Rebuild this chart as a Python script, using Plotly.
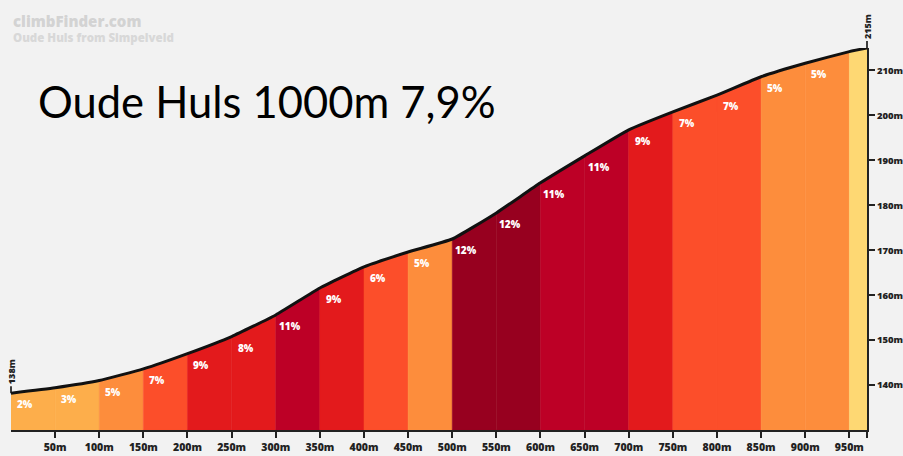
import plotly.graph_objects as go

# ---- data ----
dist = [0, 50, 100, 150, 200, 250, 300, 350, 400, 450, 500,
        550, 600, 650, 700, 750, 800, 850, 900, 950, 970]
elev = [138.2, 139.4, 141.0, 143.6, 147.0, 150.8, 155.6, 161.6, 166.3, 169.6, 172.5,
        178.3, 185.0, 191.0, 196.8, 200.8, 204.5, 208.6, 211.6, 214.2, 215.0]
grades = [2, 3, 5, 7, 9, 8, 11, 9, 6, 5, 12, 12, 11, 11, 9, 7, 7, 5, 5, 1]
grade_labels = ["2%", "3%", "5%", "7%", "9%", "8%", "11%", "9%", "6%", "5%",
                "12%", "12%", "11%", "11%", "9%", "7%", "7%", "5%", "5%", ""]
x_tick_vals = [50, 100, 150, 200, 250, 300, 350, 400, 450, 500,
               550, 600, 650, 700, 750, 800, 850, 900, 950, 970]
x_tick_text = ["50m", "100m", "150m", "200m", "250m", "300m", "350m", "400m", "450m", "500m",
               "550m", "600m", "650m", "700m", "750m", "800m", "850m", "900m", "950m", ""]
y_tick_vals = [140, 150, 160, 170, 180, 190, 200, 210]
y_tick_text = ["140m", "150m", "160m", "170m", "180m", "190m", "200m", "210m"]
start_label = "138m"
end_label = "215m"
title_text = "Oude Huls 1000m 7,9%"
brand = "climbFinder.com"
subtitle = "Oude Huls from Simpelveld"

Y_MIN, Y_MAX = 130, 215


def grade_color(g):
    if g < 2:
        return "#FED873"
    if g <= 3:
        return "#FDAE4B"
    if g <= 5:
        return "#FD8D3C"
    if g <= 7:
        return "#FC4E2A"
    if g <= 9:
        return "#E31A1C"
    if g <= 11:
        return "#BD0026"
    return "#97001F"


fig = go.Figure()

for i, g in enumerate(grades):
    x0, x1 = dist[i], dist[i + 1]
    e0, e1 = elev[i], elev[i + 1]
    fig.add_trace(go.Scatter(
        x=[x0, x0, x1, x1, x0], y=[Y_MIN, e0, e1, Y_MIN, Y_MIN],
        fill="toself", fillcolor=grade_color(g), mode="lines",
        line=dict(width=0.5, color=grade_color(g)), hoverinfo="skip", showlegend=False))

fig.add_trace(go.Scatter(
    x=dist, y=elev, mode="lines",
    line=dict(color="#111111", width=3, shape="spline", smoothing=0.4),
    hoverinfo="skip", showlegend=False))

label_font = dict(family="Open Sans", size=10, color="white", weight=800)
for i, lab in enumerate(grade_labels):
    if not lab:
        continue
    fig.add_annotation(x=dist[i], y=elev[i], text=lab, showarrow=False,
                       xanchor="center", yanchor="middle", xshift=14, yshift=-11,
                       font=label_font)

x_tick_font = dict(family="Open Sans", size=10.5, color="#222222", weight=800)
y_tick_font = dict(family="Open Sans", size=9.5, color="#222222", weight=800)
mark_font = dict(family="Open Sans", size=9, color="#222222", weight=800)

# start / end elevation markers
fig.add_annotation(x=dist[0], y=elev[0], text=start_label, textangle=-90,
                   showarrow=True, arrowhead=0, arrowwidth=1.6, arrowcolor="#111111",
                   ax=0, ay=-21, font=mark_font)
fig.add_annotation(x=dist[-1], y=elev[-1], text=end_label, textangle=-90,
                   showarrow=True, arrowhead=0, arrowwidth=1.6, arrowcolor="#111111",
                   ax=0, ay=-21, font=mark_font)

# big title (plot area spans x 11..867, y 48..430 in pixels)
fig.add_annotation(x=25 / 856, y=(430 - 101) / 382, xref="paper", yref="paper",
                   text=title_text, showarrow=False, xanchor="left", yanchor="middle",
                   font=dict(family="Lato", size=43.5, color="#000000"))

# watermark
fig.add_annotation(xref="paper", yref="paper", x=0, y=1, text=brand, showarrow=False,
                   xanchor="left", yanchor="top", yshift=39,
                   font=dict(family="Open Sans", size=15, color="#d3d3d3", weight=800))
fig.add_annotation(xref="paper", yref="paper", x=0, y=1, text=subtitle, showarrow=False,
                   xanchor="left", yanchor="top", yshift=20,
                   font=dict(family="Open Sans", size=11.5, color="#d8d8d8", weight=800))

fig.update_layout(
    width=903, height=456,
    margin=dict(l=11, r=36, t=48, b=26),
    paper_bgcolor="#f2f2f2", plot_bgcolor="#f2f2f2",
    showlegend=False,
    xaxis=dict(range=[dist[0], dist[-1]], showgrid=False, zeroline=False,
               showline=True, linecolor="#222222", linewidth=2,
               ticks="outside", ticklen=6, tickwidth=2, tickcolor="#222222",
               tickvals=x_tick_vals, ticktext=x_tick_text, tickfont=x_tick_font,
               automargin=False, fixedrange=True),
    yaxis=dict(range=[Y_MIN, Y_MAX], side="right", showgrid=False, zeroline=False,
               showline=True, linecolor="#222222", linewidth=2,
               ticks="outside", ticklen=6, tickwidth=2, tickcolor="#222222",
               tickvals=y_tick_vals, ticktext=y_tick_text, tickfont=y_tick_font,
               automargin=False, fixedrange=True),
)

fig.write_html("out.html", config={"displayModeBar": False},
               post_script="document.body.style.margin='0';document.body.style.padding='0';"
                           "document.body.style.overflow='hidden';")
